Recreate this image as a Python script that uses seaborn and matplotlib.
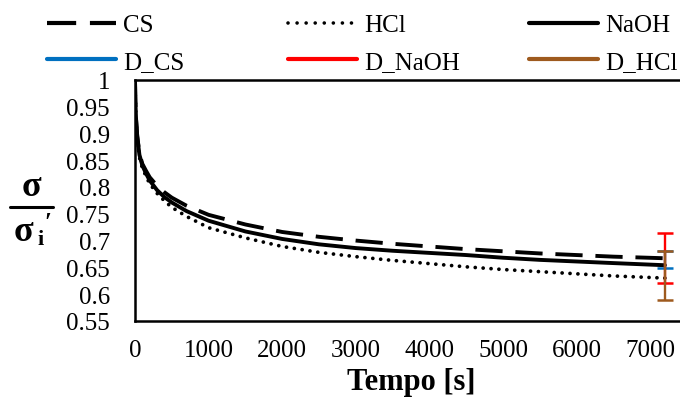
import numpy as np
import pandas as pd
import seaborn as sns
import matplotlib
matplotlib.use("Agg")
import matplotlib.pyplot as plt
from matplotlib.lines import Line2D
from matplotlib.ticker import FuncFormatter, MultipleLocator

# ---- data ----
tempo = [0, 5, 15, 30, 60, 100, 150, 200, 300, 400, 500, 700, 1000, 1500,
         2000, 2500, 3000, 3500, 4000, 4500, 5000, 5500, 6000, 6500, 7200]
cs = [1.0, 0.96, 0.925, 0.895, 0.862, 0.843, 0.83, 0.818, 0.802, 0.79, 0.78,
      0.765, 0.748, 0.73, 0.716, 0.707, 0.700, 0.694, 0.689, 0.684, 0.680,
      0.676, 0.673, 0.670, 0.667]
naoh = [1.0, 0.96, 0.925, 0.895, 0.86, 0.84, 0.825, 0.812, 0.794, 0.781, 0.771,
        0.755, 0.737, 0.717, 0.703, 0.693, 0.686, 0.681, 0.677, 0.673, 0.668,
        0.664, 0.661, 0.658, 0.654]
hcl = [1.0, 0.96, 0.92, 0.89, 0.855, 0.835, 0.82, 0.806, 0.788, 0.774, 0.762,
       0.745, 0.724, 0.705, 0.689, 0.678, 0.670, 0.663, 0.657, 0.651, 0.646,
       0.642, 0.638, 0.634, 0.630]

err_names = ["D_CS", "D_NaOH", "D_HCl"]
err_x = [7200, 7200, 7200]
err_y = [0.665, 0.667, 0.635]
err_e = [0.016, 0.047, 0.045]
err_colors = ["#0070C0", "#FF0000", "#9E5A1E"]

xticks = [0, 1000, 2000, 3000, 4000, 5000, 6000, 7000]

# ---- style ----
sns.set_style("white")
plt.rcParams["font.family"] = ["Liberation Serif", "DejaVu Serif"]
plt.rcParams["text.color"] = "black"
plt.rcParams["axes.labelcolor"] = "black"
plt.rcParams["xtick.color"] = "black"
plt.rcParams["ytick.color"] = "black"

W, H = 680, 402
fig = plt.figure(figsize=(W / 100, H / 100), dpi=100)
ax = fig.add_axes([135 / W, (H - 322) / H, 552 / W, 241.3 / H])

df = pd.DataFrame({"Tempo": tempo, "CS": cs, "HCl": hcl, "NaOH": naoh})

sns.lineplot(data=df, x="Tempo", y="CS", ax=ax, color="black", lw=2.8,
             linestyle=(0, (7.0, 3.3)), legend=False)
sns.lineplot(data=df, x="Tempo", y="HCl", ax=ax, color="black", lw=2.7,
             linestyle=(0, (0.01, 2.1)), legend=False)
ax.lines[-1].set_dash_capstyle("round")
sns.lineplot(data=df, x="Tempo", y="NaOH", ax=ax, color="black", lw=2.8,
             legend=False)

for xv, yv, ev, c in zip(err_x, err_y, err_e, err_colors):
    ax.errorbar(xv, yv, yerr=ev, fmt="none", ecolor=c, elinewidth=1.7,
                capsize=6, capthick=1.8, zorder=5)

ax.set_xlim(0, 7500)
ax.set_ylim(0.55, 1.0)
ax.set_xticks(xticks)
ax.yaxis.set_major_locator(MultipleLocator(0.05))
ax.yaxis.set_major_formatter(FuncFormatter(lambda v, p: "%g" % round(v, 2)))
ax.tick_params(axis="both", direction="in", length=5, width=1.5,
               labelsize=18, colors="black")
ax.tick_params(axis="x", pad=13)
ax.tick_params(axis="y", pad=18)
for s in ax.spines.values():
    s.set_linewidth(1.8)
    s.set_color("black")
ax.set_xlabel("Tempo [s]", fontsize=22, fontweight="bold", labelpad=4,
              color="black")
ax.set_ylabel("")

# y label as fraction sigma / sigma_i'
fig.text(31 / W, 1 - 187 / H, "σ", fontsize=26, fontweight="bold",
         ha="center", va="center")
fig.add_artist(Line2D([10 / W, 53 / W], [1 - 208 / H, 1 - 208 / H],
                      color="black", lw=2.2, transform=fig.transFigure))
fig.text(23 / W, 1 - 233 / H, "σ", fontsize=26, fontweight="bold",
         ha="center", va="center")
fig.text(41 / W, 1 - 240 / H, "i", fontsize=16, fontweight="bold",
         ha="center", va="center")
fig.text(48 / W, 1 - 224 / H, "′", fontsize=18, fontweight="bold",
         ha="center", va="center")

# legends: three columns of two rows
h_cs = Line2D([], [], color="black", lw=3.0, linestyle=(0, (7.0, 3.3)))
h_hcl = Line2D([], [], color="black", lw=2.6, linestyle=(0, (0.01, 2.5)),
               dash_capstyle="round")
h_naoh = Line2D([], [], color="black", lw=3.0)
h_dcs = Line2D([], [], color=err_colors[0], lw=3.0)
h_dnaoh = Line2D([], [], color=err_colors[1], lw=3.0)
h_dhcl = Line2D([], [], color=err_colors[2], lw=3.0)

cols = [([h_cs, h_dcs], ["CS", "D_CS"], 47),
        ([h_hcl, h_dnaoh], ["HCl", "D_NaOH"], 288),
        ([h_naoh, h_dhcl], ["NaOH", "D_HCl"], 529)]
for hs, labs, xpix in cols:
    fig.legend(hs, labs, loc="upper left",
               bbox_to_anchor=(xpix / W, 1 - 15 / H),
               frameon=False, fontsize=18, handlelength=2.76,
               handletextpad=0.28, borderpad=0, borderaxespad=0,
               labelspacing=0.55)

fig.savefig("out.png", dpi=100)
